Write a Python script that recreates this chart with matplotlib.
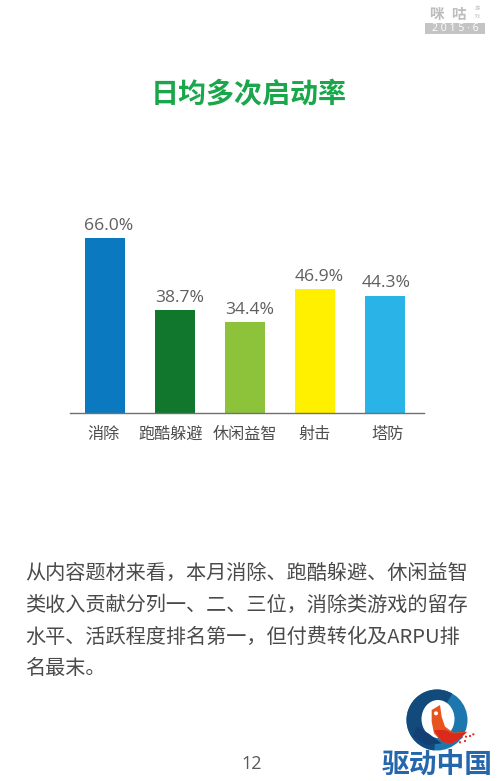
import matplotlib
matplotlib.use("Agg")
import matplotlib.pyplot as plt
from matplotlib.patches import Wedge, Circle, Rectangle, Polygon, Ellipse
from matplotlib.transforms import ScaledTranslation

CJK = ['Noto Sans CJK SC', 'DejaVu Sans']

categories = ['消除', '跑酷躲避', '休闲益智', '射击', '塔防']
values = [66.0, 38.7, 34.4, 46.9, 44.3]
value_labels = ['66.0%', '38.7%', '34.4%', '46.9%', '44.3%']
bar_colors = ['#0b79bf', '#10772d', '#8dc33b', '#fff000', '#29b3e6']
title = '日均多次启动率'
body_lines = ['从内容题材来看\uff0c本月消除、跑酷躲避、休闲益智',
              '类收入贡献分列一、二、三位\uff0c消除类游戏的留存',
              '水平、活跃程度排名第一\uff0c但付费转化及ARPU排',
              '名最末。']
page_number = '12'
label_shift_px = [3.5, 4.5, 5, 4.5, 1.5]
tick_shift_px = [-2, -4, 0, 0, 3]

W, H = 500, 781
fig = plt.figure(figsize=(W / 100, H / 100), dpi=100, facecolor='white')

ov = fig.add_axes([0, 0, 1, 1])
ov.set_xlim(0, W)
ov.set_ylim(H, 0)
ov.axis('off')

left, right, base, top = 70, 424, 413, 200
ax = fig.add_axes([left / W, 1 - base / H, (right - left) / W, (base - top) / H])
ax.patch.set_alpha(0)
ax.set_xlim(-0.5, 4.557)
ax.set_ylim(0, (base - top) / 2.652)
ax.bar(range(len(values)), values, width=0.578, color=bar_colors)
for i, (v, lab, dx) in enumerate(zip(values, value_labels, label_shift_px)):
    ax.annotate(lab, (i, v), xytext=(dx * 0.72, 5.8), textcoords='offset points', ha='center', va='baseline',
                fontsize=12.6, color='#5f5f5f', family='Open Sans')
ax.set_xticks(range(len(categories)))
ax.set_xticklabels(categories, family=CJK, fontsize=11.6, color='#4d4d4d')
ax.tick_params(axis='x', length=0, pad=9.5)
for lbl, dx in zip(ax.get_xticklabels(), tick_shift_px):
    lbl.set_transform(lbl.get_transform() + ScaledTranslation(dx / 100, 0, fig.dpi_scale_trans))
ax.set_yticks([])
for s in ['top', 'left', 'right']:
    ax.spines[s].set_visible(False)
ax.spines['bottom'].set_color('#707070')
ax.spines['bottom'].set_linewidth(1.0)

ov.text(249, 95.5, title, ha='center', va='center', family=CJK, fontsize=20.2, fontweight='bold', color='#1aa64a')

for y, line in zip([573, 605, 637, 668], body_lines):
    ov.text(25, y, line, ha='left', va='center', family=CJK, fontsize=14.5, color='#4a4a4a')

ov.text(252, 764, page_number, ha='center', va='center', family='Open Sans', fontsize=13, color='#595959')

# watermark
ov.add_patch(Rectangle((425, 23), 60, 11, color='#c4c4c4', lw=0))
ov.text(455, 28.5, '2 0 1 5 · 6', ha='center', va='center', family='Open Sans', fontsize=7.6, color='white')
ov.text(436, 13.5, '咪', ha='center', va='center', family=CJK, fontsize=10.5, fontweight='bold', color='#bdbdbd')
ov.text(458, 13.5, '咕', ha='center', va='center', family=CJK, fontsize=10.5, fontweight='bold', color='#bdbdbd')
ov.text(477, 9, '游', ha='center', va='center', family=CJK, fontsize=3.6, color='#bdbdbd')
ov.text(477, 16, '戏', ha='center', va='center', family=CJK, fontsize=3.6, color='#bdbdbd')

# logo, shapes given in crop coordinates of the mark
def z(p):
    return [(360 + x / 3, 680 + y / 3) for x, y in p]

cx, cy = 437, 720
ov.add_patch(Circle((cx, cy), 30.5, color='#1b77ad', lw=0))
ov.add_patch(Wedge((cx, cy), 30.5, 95, 300, width=16, color='#134a7c', lw=0))
ov.add_patch(Ellipse((cx + 1, cy - 1), 33, 38, color='white', lw=0))
ov.add_patch(Polygon(z([(170, 140), (205, 160), (245, 190), (200, 195), (160, 170)]), color='#123f74', lw=0))
ov.add_patch(Polygon(z([(215, 90), (240, 75), (245, 110), (255, 140), (280, 158), (322, 155), (300, 175),
                        (275, 192), (245, 185), (222, 160), (215, 125)]), color='#e8541d', lw=0))
ov.add_patch(Polygon(z([(222, 150), (255, 150), (280, 160), (320, 157), (300, 175), (275, 192), (245, 185)]),
                     color='#d92a1c', lw=0))
ov.add_patch(Circle(z([(228, 100)])[0], 2, color='white', lw=0))
for p in [(305, 172), (318, 170), (330, 168), (340, 163), (300, 187), (315, 183)]:
    ov.add_patch(Circle(z([p])[0], 1.1, color='#d92a1c', lw=0))
ov.text(437.5, 764.5, '驱动中国', ha='center', va='center', family=CJK, fontsize=20, fontweight='bold', color='#2467ad')

fig.savefig('out.png', dpi=100)
